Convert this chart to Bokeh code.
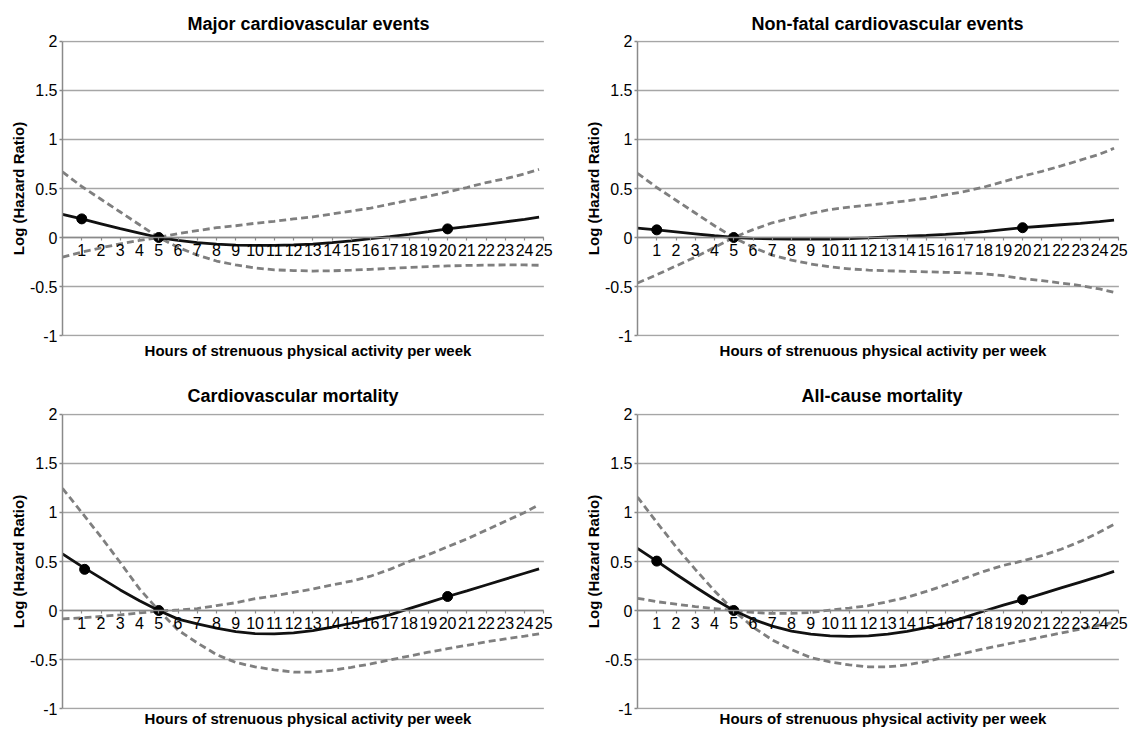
from bokeh.plotting import figure
from bokeh.layouts import column, row
from bokeh.models import Range1d, LinearAxis, FixedTicker, CustomJSTickFormatter
from bokeh.embed import file_html
from bokeh.resources import INLINE

# ---------------- data ----------------
HOURS = [0, 1, 2, 3, 4, 5, 6, 7, 8, 9, 10, 11, 12, 13, 14, 15, 16, 17, 18, 19, 20,
         21, 22, 23, 24, 24.75]
X_TICKS = list(range(1, 26))
Y_TICKS = [-1, -0.5, 0, 0.5, 1, 1.5, 2]
X_LABEL = "Hours of strenuous physical activity per week"
Y_LABEL = "Log (Hazard Ratio)"

TITLES = ["Major cardiovascular events", "Non-fatal cardiovascular events",
          "Cardiovascular mortality", "All-cause mortality"]

major_hr = [0.237, 0.19, 0.14, 0.09, 0.045, 0.0, -0.03, -0.053, -0.068, -0.077, -0.08, -0.08,
            -0.076, -0.068, -0.052, -0.034, -0.012, 0.008, 0.033, 0.06, 0.088, 0.11, 0.135,
            0.16, 0.185, 0.207]
major_ci_a = [-0.2, -0.15, -0.105, -0.065, -0.03, 0.0, 0.04, 0.07, 0.1, 0.12, 0.145, 0.165,
              0.19, 0.21, 0.24, 0.27, 0.3, 0.34, 0.38, 0.42, 0.465, 0.51, 0.56, 0.6, 0.65, 0.695]
major_ci_b = [0.67, 0.52, 0.39, 0.26, 0.13, 0.0, -0.1, -0.18, -0.24, -0.28, -0.31, -0.33,
              -0.337, -0.342, -0.34, -0.333, -0.325, -0.315, -0.305, -0.297, -0.29, -0.285,
              -0.282, -0.28, -0.28, -0.283]
major_pts_x = [1, 5, 20]
major_pts_y = [0.19, 0.0, 0.088]

nonfatal_hr = [0.095, 0.078, 0.058, 0.038, 0.018, 0.0, -0.008, -0.013, -0.016, -0.017, -0.016,
               -0.01, -0.003, 0.005, 0.013, 0.022, 0.032, 0.045, 0.06, 0.08, 0.1, 0.115, 0.13,
               0.145, 0.163, 0.177]
nonfatal_ci_a = [-0.465, -0.38, -0.29, -0.2, -0.1, 0.0, 0.08, 0.15, 0.2, 0.245, 0.285, 0.31,
                 0.33, 0.35, 0.375, 0.4, 0.435, 0.47, 0.515, 0.57, 0.625, 0.675, 0.73, 0.79,
                 0.85, 0.91]
nonfatal_ci_b = [0.655, 0.51, 0.38, 0.25, 0.12, 0.0, -0.1, -0.18, -0.23, -0.27, -0.3, -0.32,
                 -0.333, -0.34, -0.345, -0.35, -0.355, -0.36, -0.37, -0.39, -0.42, -0.44,
                 -0.465, -0.49, -0.525, -0.56]
nonfatal_pts_x = [1, 5, 20]
nonfatal_pts_y = [0.078, 0.0, 0.10]

cvmort_hr = [0.577, 0.45, 0.33, 0.21, 0.1, 0.0, -0.088, -0.136, -0.18, -0.215, -0.235, -0.238,
             -0.228, -0.205, -0.17, -0.13, -0.088, -0.044, 0.02, 0.08, 0.143, 0.2, 0.26, 0.32,
             0.38, 0.425]
cvmort_ci_a = [-0.085, -0.075, -0.06, -0.045, -0.025, -0.005, 0.005, 0.02, 0.05, 0.08, 0.12,
               0.15, 0.185, 0.22, 0.26, 0.3, 0.35, 0.42, 0.5, 0.57, 0.65, 0.73, 0.82, 0.91,
               1.0, 1.08]
cvmort_ci_b = [1.246, 1.0, 0.75, 0.49, 0.22, 0.0, -0.2, -0.33, -0.45, -0.53, -0.575, -0.605,
               -0.628, -0.628, -0.61, -0.58, -0.545, -0.505, -0.465, -0.425, -0.39, -0.355,
               -0.32, -0.29, -0.262, -0.238]
cvmort_pts_x = [1.15, 5, 20]
cvmort_pts_y = [0.42, 0.0, 0.143]

allcause_hr = [0.633, 0.504, 0.37, 0.24, 0.115, 0.0, -0.09, -0.16, -0.21, -0.24, -0.258,
               -0.264, -0.258, -0.24, -0.213, -0.175, -0.13, -0.07, -0.005, 0.055, 0.11,
               0.17, 0.23, 0.29, 0.35, 0.40]
allcause_ci_a = [0.125, 0.09, 0.065, 0.04, 0.02, 0.0, -0.02, -0.03, -0.03, -0.02, 0.005,
                 0.025, 0.05, 0.09, 0.135, 0.195, 0.26, 0.33, 0.4, 0.46, 0.505, 0.56, 0.625,
                 0.705, 0.8, 0.88]
allcause_ci_b = [1.157, 0.9, 0.65, 0.42, 0.2, 0.0, -0.17, -0.3, -0.4, -0.48, -0.525, -0.555,
                 -0.575, -0.575, -0.555, -0.52, -0.475, -0.435, -0.39, -0.35, -0.31, -0.27,
                 -0.23, -0.19, -0.148, -0.12]
allcause_pts_x = [1, 5, 20]
allcause_pts_y = [0.504, 0.0, 0.11]

# ---------------- styling ----------------
FONT = "Liberation Sans"
GRID = "#a6a6a6"
AXIS = "#8a8a8a"
DASH = "#7f7f7f"
SOLID = "#111111"
X_END = X_TICKS[-1]


def make_panel(title, hr, ci_a, ci_b, px, py, width, height, b_right, b_top, b_bottom,
               title_offset, title_standoff, xlabel_standoff):
    p = figure(width=width, height=height,
               x_range=Range1d(0, X_END + 0.5), y_range=Range1d(-1.01, 2.01),
               output_backend="svg", toolbar_location=None,
               min_border_left=62, min_border_right=b_right,
               min_border_top=b_top, min_border_bottom=b_bottom,
               title=title)
    p.outline_line_color = None
    p.background_fill_color = "white"
    p.border_fill_color = "white"

    p.title.align = "left"
    p.title.offset = title_offset
    p.title.text_font = FONT
    p.title.text_font_size = "18px"
    p.title.text_font_style = "bold"
    p.title.text_color = "black"
    p.title.standoff = title_standoff

    p.xgrid.visible = False
    p.ygrid.visible = False
    # horizontal gridlines spanning the hour axis (0 .. 25)
    p.segment(x0=[0] * len(Y_TICKS), y0=Y_TICKS, x1=[X_END] * len(Y_TICKS), y1=Y_TICKS,
              line_color=GRID, line_width=1.5)

    yax = p.yaxis[0]
    yax.bounds = (Y_TICKS[0], Y_TICKS[-1])
    yax.ticker = FixedTicker(ticks=Y_TICKS)
    yax.formatter = CustomJSTickFormatter(code="return tick.toString();")
    yax.axis_line_color = AXIS
    yax.axis_line_width = 1.5
    yax.major_tick_line_color = AXIS
    yax.major_tick_line_width = 1.5
    yax.major_tick_out = 3
    yax.major_tick_in = 0
    yax.minor_tick_line_color = None
    yax.major_label_standoff = 2
    yax.major_label_text_font = FONT
    yax.major_label_text_font_size = "16px"
    yax.major_label_text_color = "black"
    yax.axis_label = Y_LABEL
    yax.axis_label_text_font = FONT
    yax.axis_label_text_font_size = "15px"
    yax.axis_label_text_font_style = "bold"
    yax.axis_label_text_color = "black"
    yax.axis_label_standoff = 0

    xax = p.xaxis[0]
    xax.fixed_location = 0
    xax.bounds = (0, X_END)
    xax.ticker = FixedTicker(ticks=X_TICKS)
    xax.formatter = CustomJSTickFormatter(code="return tick.toString();")
    xax.axis_line_color = AXIS
    xax.axis_line_width = 1.5
    xax.major_tick_line_color = AXIS
    xax.major_tick_line_width = 1.2
    xax.major_tick_out = 3
    xax.major_tick_in = 0
    xax.minor_tick_line_color = None
    xax.major_label_standoff = 3
    xax.major_label_text_font = FONT
    xax.major_label_text_font_size = "16px"
    xax.major_label_text_color = "black"

    lab = LinearAxis(ticker=FixedTicker(ticks=[]), axis_label=X_LABEL,
                     axis_line_color=None, major_tick_line_color=None,
                     minor_tick_line_color=None, major_tick_out=0, major_tick_in=0,
                     major_label_standoff=0, axis_label_standoff=xlabel_standoff,
                     axis_label_text_font=FONT, axis_label_text_font_size="15px",
                     axis_label_text_font_style="bold", axis_label_text_color="black")
    p.add_layout(lab, "below")

    p.line(HOURS, ci_a, line_color=DASH, line_width=2.8, line_dash="7 4")
    p.line(HOURS, ci_b, line_color=DASH, line_width=2.8, line_dash="7 4")
    p.line(HOURS, hr, line_color=SOLID, line_width=2.8)
    p.scatter(px, py, size=10, color="black")
    return p


# top row: frame 296 px tall starting at y=40; bottom row: frame 296 px starting at y=413
p1 = make_panel(TITLES[0], major_hr, major_ci_a, major_ci_b, major_pts_x, major_pts_y,
                575, 375, 22, 40, 39, 125, 14, 5)
p2 = make_panel(TITLES[1], nonfatal_hr, nonfatal_ci_a, nonfatal_ci_b, nonfatal_pts_x,
                nonfatal_pts_y, 556, 375, 3, 40, 39, 114, 14, 5)
p3 = make_panel(TITLES[2], cvmort_hr, cvmort_ci_a, cvmort_ci_b, cvmort_pts_x, cvmort_pts_y,
                575, 354, 22, 38, 20, 125, 15, 0)
p4 = make_panel(TITLES[3], allcause_hr, allcause_ci_a, allcause_ci_b, allcause_pts_x,
                allcause_pts_y, 556, 354, 3, 38, 20, 164, 15, 0)

layout = column(row(p1, p2), row(p3, p4))
open("out.html", "w").write(file_html(layout, INLINE))
